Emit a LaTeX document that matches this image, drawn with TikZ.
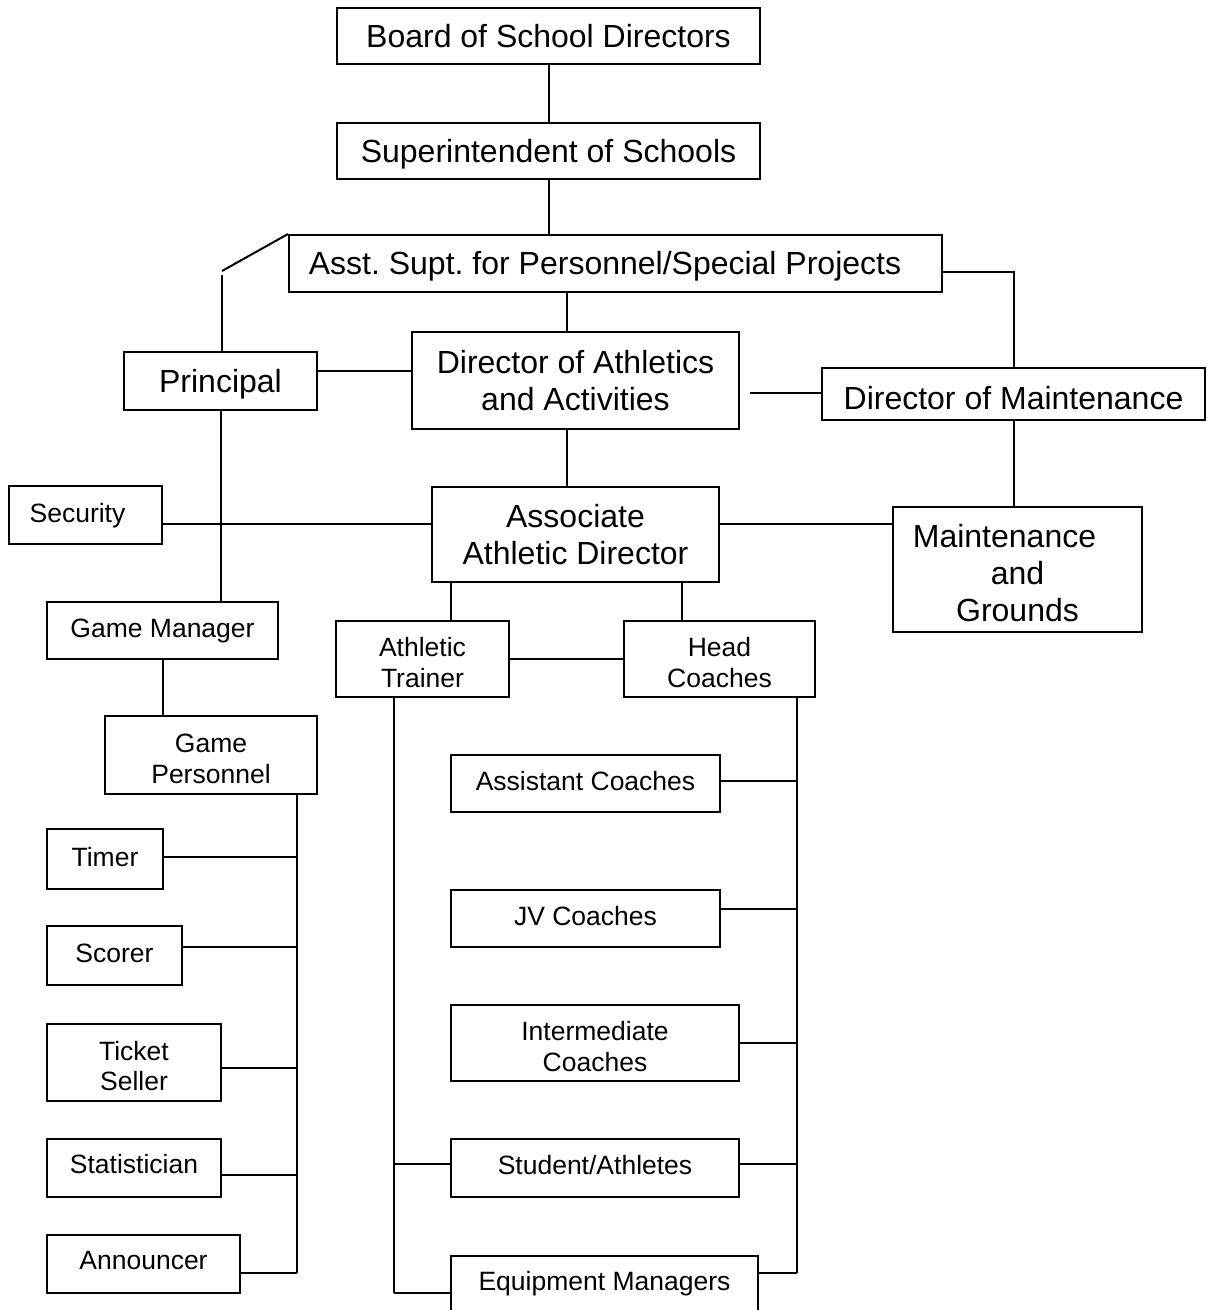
\documentclass[tikz,border=0pt]{standalone}
\usepackage{fontspec}
\setmainfont{Liberation Sans}
\frenchspacing
\begin{document}
\begin{tikzpicture}[x=1pt,y=-1pt,
  box/.style={draw,line width=2pt,inner sep=0pt,align=center},
  big/.style={font=\fontsize{32}{37}\selectfont},
  small/.style={font=\fontsize{26.5}{30.5}\selectfont},
  conn/.style={line width=2pt}]
\useasboundingbox (0,0) rectangle (1208,1310);
\fill[white] (0,0) rectangle (1208,1310);
% top chain
\node[box,big,minimum width=423,minimum height=56,text height=22.9pt,text depth=0pt] (board) at (548.5,36) {Board of School Directors};
\node[box,big,minimum width=423,minimum height=56,text height=22.9pt,text depth=0pt] (sup) at (548.5,151) {Superintendent of Schools};
\node[box,big,minimum width=653,minimum height=57,text height=22.9pt,text depth=0pt] (asst) at (615.5,263.5) {Asst. Supt. for Personnel/Special Projects\hspace*{21pt}};
\node[box,big,minimum width=193,minimum height=58,text height=22.9pt,text depth=0pt] (principal) at (220.5,381) {Principal};
\node[box,big,minimum width=327,minimum height=97] (dirath) at (575.5,380.5) {Director of Athletics\\and Activities};
\node[box,big,minimum width=383,minimum height=52,text height=30.9pt,text depth=0pt] (dirmaint) at (1013.5,394) {Director of Maintenance};
\node[box,small,minimum width=153,minimum height=58,text height=19pt,text depth=4pt] (security) at (85.5,515) {Security\hspace*{16pt}};
\node[box,small,minimum width=231,minimum height=57,text height=19pt,text depth=5pt] (gm) at (162.5,630.5) {Game Manager};
\node[box,big,minimum width=287,minimum height=95] (assoc) at (575.5,534.5) {Associate\\Athletic Director};
\node[box,big,minimum width=249,minimum height=125] (mg) at (1017.5,569.5) {\rule{0pt}{0.95em}Maintenance\hspace*{26pt}\\and\\Grounds};
\node[box,small,minimum width=173,minimum height=76] (at) at (422.5,659) {\rule{0pt}{1em}Athletic\\Trainer};
\node[box,small,minimum width=191,minimum height=76] (hc) at (719.5,659) {\rule{0pt}{1em}Head\\Coaches};
\node[box,small,minimum width=212,minimum height=78] (gp) at (211,755) {\rule{0pt}{1em}Game\\Personnel};
% left column
\node[box,small,minimum width=116,minimum height=60,text height=19pt,text depth=4pt] (timer) at (105,859) {Timer};
\node[box,small,minimum width=135,minimum height=59,text height=19pt,text depth=5pt] (scorer) at (114.5,955.5) {Scorer};
\node[box,small,minimum width=174,minimum height=77] (ticket) at (134,1062.5) {\rule{0pt}{1em}Ticket\\Seller};
\node[box,small,minimum width=174,minimum height=58,text height=19pt,text depth=8pt] (stat) at (134,1168) {Statistician};
\node[box,small,minimum width=193,minimum height=58,text height=19pt,text depth=8pt] (ann) at (143.5,1264) {Announcer};
% right column
\node[box,small,minimum width=269,minimum height=57,text height=19pt,text depth=5pt] (ac) at (585.5,783.5) {Assistant Coaches};
\node[box,small,minimum width=269,minimum height=57,text height=19pt,text depth=5pt] (jv) at (585.5,918.5) {JV Coaches};
\node[box,small,minimum width=288,minimum height=76] (ic) at (595,1043) {\rule{0pt}{1em}Intermediate\\Coaches};
\node[box,small,minimum width=288,minimum height=58,text height=19pt,text depth=6pt] (sa) at (595,1168) {Student/Athletes};
\node[draw,line width=2pt,inner sep=0pt,small,minimum width=307,text height=34.5pt,text depth=40pt,anchor=north] (em) at (604.5,1255) {Equipment Managers};
% helper coordinates
\coordinate (xa) at (567,0);
\coordinate (d1) at (222,271);
\coordinate (d2) at (222,275);
\coordinate (f1) at (750,393);
\coordinate (xat) at (451,0);
\coordinate (xhc) at (682,0);
\coordinate (gpbus) at (297,0);
\coordinate (hcbus) at (797,0);
\coordinate (atbus) at (394,0);
% connectors
\draw[conn] (board.south) -- (sup.north);
\draw[conn] (sup.south) -- (sup.south |- asst.north);
\draw[conn] (asst.north west) -- (d1);
\draw[conn] (d2) -- (d2 |- principal.north);
\draw[conn] (xa |- asst.south) -- (xa |- dirath.north);
\draw[conn] (principal.east |- 0,371) -- (dirath.west |- 0,371);
\draw[conn] (asst.east |- 0,272) -| (dirmaint.north);
\draw[conn] (f1) -- (dirmaint.west |- f1);
\draw[conn] (dirmaint.south) -- (dirmaint.south |- mg.north);
\draw[conn] (principal.south) -- (principal.south |- gm.north);
\draw[conn] (security.east |- 0,524) -- (assoc.west |- 0,524);
\draw[conn] (xa |- dirath.south) -- (xa |- assoc.north);
\draw[conn] (assoc.east |- 0,524) -- (mg.west |- 0,524);
\draw[conn] (xat |- assoc.south) -- (xat |- at.north);
\draw[conn] (xhc |- assoc.south) -- (xhc |- hc.north);
\draw[conn] (at.east) -- (hc.west);
\draw[conn] (gm.south) -- (gm.south |- gp.north);
% game personnel bus
\draw[conn] (gpbus |- gp.south) -- (gpbus |- 0,1273);
\draw[conn] (timer.east |- 0,857) -- (gpbus |- 0,857);
\draw[conn] (scorer.east |- 0,947) -- (gpbus |- 0,947);
\draw[conn] (ticket.east |- 0,1068) -- (gpbus |- 0,1068);
\draw[conn] (stat.east |- 0,1175) -- (gpbus |- 0,1175);
\draw[conn] (ann.east |- 0,1273) -- (gpbus |- 0,1273);
% head coaches bus
\draw[conn] (hcbus |- hc.south) -- (hcbus |- 0,1273);
\draw[conn] (ac.east |- 0,781) -- (hcbus |- 0,781);
\draw[conn] (jv.east |- 0,909) -- (hcbus |- 0,909);
\draw[conn] (ic.east |- 0,1043) -- (hcbus |- 0,1043);
\draw[conn] (sa.east |- 0,1164) -- (hcbus |- 0,1164);
\draw[conn] (em.east |- 0,1273) -- (hcbus |- 0,1273);
% athletic trainer bus
\draw[conn] (atbus |- at.south) -- (atbus |- 0,1293);
\draw[conn] (atbus |- 0,1164) -- (sa.west |- 0,1164);
\draw[conn] (atbus |- 0,1293) -- (em.west |- 0,1293);
\end{tikzpicture}
\end{document}
